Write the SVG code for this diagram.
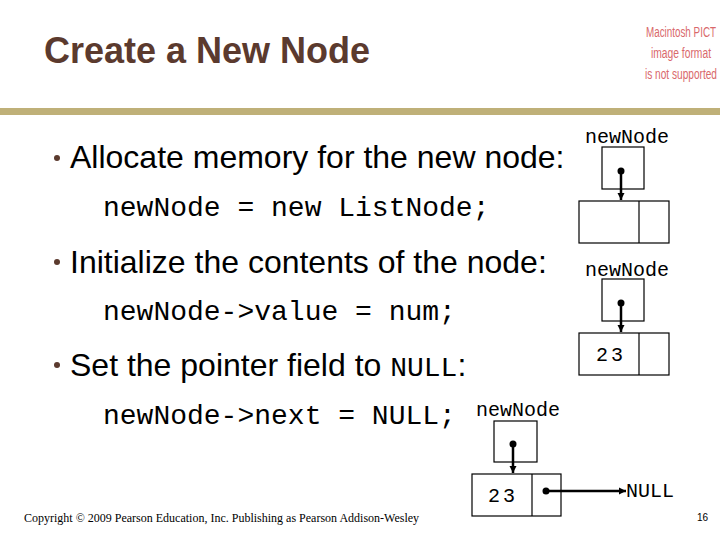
<svg xmlns="http://www.w3.org/2000/svg" width="720" height="540" viewBox="0 0 720 540">
<defs>
<style>
.title{font-family:"Liberation Sans",Arial,sans-serif;font-weight:bold;font-size:36px;fill:#5b3a2e}
.body{font-family:"Liberation Sans",Arial,sans-serif;font-size:32px;fill:#000}
.code{font-family:"Liberation Mono","Courier New",monospace;font-size:28px;fill:#000}
.lbl{font-family:"Liberation Mono","Courier New",monospace;font-size:20px;fill:#000}
.pict{font-family:"Liberation Sans",Arial,sans-serif;font-size:14px;fill:#d9686b;text-anchor:middle}
.box{fill:#fff;stroke:#000;stroke-width:1.2}
.ptr{stroke:#000;stroke-width:2.5;fill:none}
.bul{fill:#5b3a2e}
</style>
<marker id="ah" markerWidth="8" markerHeight="8" refX="7" refY="4" orient="auto" markerUnits="userSpaceOnUse">
<path d="M0,0.5 L7,4 L0,7.5 Z" fill="#000"/>
</marker>
</defs>
<rect width="720" height="540" fill="#fff"/>
<text class="title" x="44" y="63">Create a New Node</text>
<g id="pict">
<text class="pict" x="681" y="37" textLength="70" lengthAdjust="spacingAndGlyphs">Macintosh PICT</text>
<text class="pict" x="681" y="58" textLength="60" lengthAdjust="spacingAndGlyphs">image format</text>
<text class="pict" x="681" y="79" textLength="72" lengthAdjust="spacingAndGlyphs">is not supported</text>
</g>
<rect x="0" y="108" width="720" height="7" fill="#bfb078"/>
<g id="text">
<circle class="bul" cx="57" cy="158" r="3"/>
<text class="body" x="70" y="168">Allocate memory for the new node:</text>
<text class="code" x="103" y="216">newNode = new ListNode;</text>
<circle class="bul" cx="57" cy="262" r="3"/>
<text class="body" x="70" y="273">Initialize the contents of the node:</text>
<text class="code" x="103" y="320">newNode-&gt;value = num;</text>
<circle class="bul" cx="57" cy="365" r="3"/>
<text class="body" x="70" y="376">Set the pointer field to <tspan class="code">NULL</tspan>:</text>
<text class="code" x="103" y="424">newNode-&gt;next = NULL;</text>
</g>
<g id="node1">
<text class="lbl" x="585" y="143">newNode</text>
<rect class="box" x="602" y="147" width="42" height="42"/>
<rect class="box" x="579" y="201" width="90" height="42"/>
<line x1="639" y1="201" x2="639" y2="243" stroke="#000" stroke-width="1.2"/>
</g>
<g id="node2">
<text class="lbl" x="585" y="276">newNode</text>
<rect class="box" x="602" y="279" width="42" height="42"/>
<rect class="box" x="579" y="333" width="90" height="42"/>
<line x1="639" y1="333" x2="639" y2="375" stroke="#000" stroke-width="1.2"/>
<text class="lbl" x="596" y="361" letter-spacing="3">23</text>
</g>
<g id="node3">
<text class="lbl" x="476" y="416">newNode</text>
<rect class="box" x="494" y="421" width="43" height="41"/>
<rect class="box" x="472" y="474" width="89" height="42"/>
<line x1="532" y1="474" x2="532" y2="516" stroke="#000" stroke-width="1.2"/>
<text class="lbl" x="488" y="502" letter-spacing="3">23</text>
<text class="lbl" x="626" y="497">NULL</text>
</g>
<g id="connectors">
<circle cx="621" cy="171" r="3.5"/>
<line class="ptr" x1="621" y1="171" x2="621" y2="200" marker-end="url(#ah)"/>
<circle cx="621" cy="303" r="3.5"/>
<line class="ptr" x1="621" y1="303" x2="621" y2="332" marker-end="url(#ah)"/>
<circle cx="513" cy="444" r="3.5"/>
<line class="ptr" x1="513" y1="444" x2="513" y2="473" marker-end="url(#ah)"/>
<circle cx="546" cy="491" r="3.5"/>
<line class="ptr" x1="546" y1="491" x2="626" y2="491" marker-end="url(#ah)"/>
</g>
<text x="24" y="522" font-family="'Liberation Serif','Times New Roman',serif" font-size="12" fill="#000">Copyright © 2009 Pearson Education, Inc. Publishing as Pearson Addison-Wesley</text>
<text x="697" y="521" font-family="'Liberation Sans',Arial,sans-serif" font-size="10" fill="#000">16</text>
</svg>
